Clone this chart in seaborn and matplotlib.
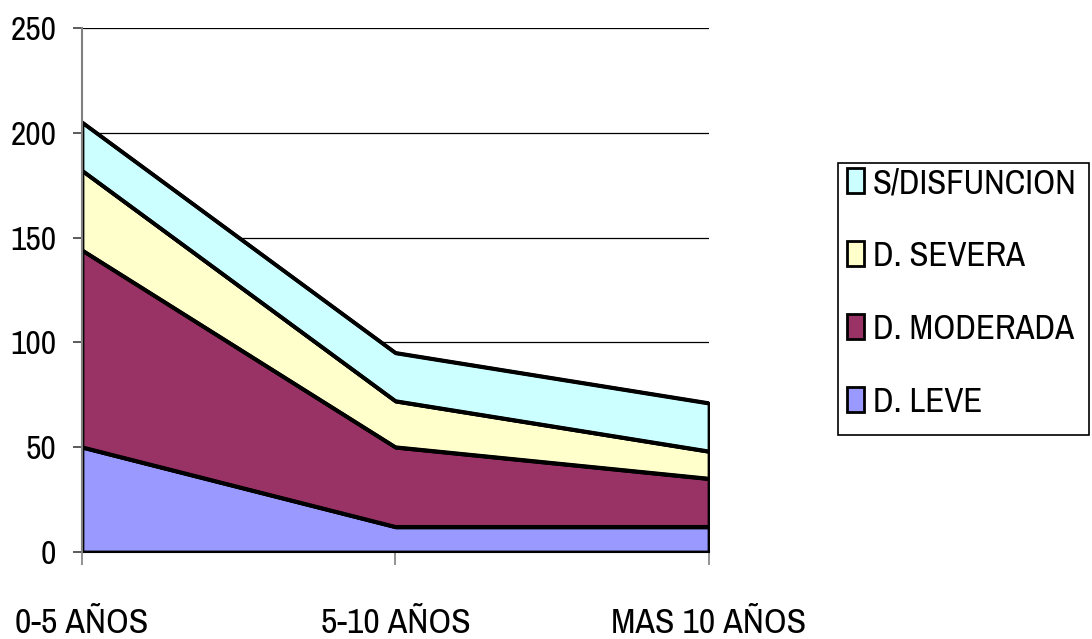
import matplotlib
matplotlib.use("Agg")
import matplotlib.pyplot as plt
import seaborn as sns
import numpy as np
import pandas as pd
from matplotlib.patches import Patch, Rectangle

categories = ["0-5 AÑOS", "5-10 AÑOS", "MAS 10 AÑOS"]
leve = [50, 12, 12]
moderada = [94, 38, 23]
severa = [38, 22, 13]
sin_disf = [23, 23, 23]
series_names = ["D. LEVE", "D. MODERADA", "D. SEVERA", "S/DISFUNCION"]
colors = ["#9999FF", "#993366", "#FFFFCC", "#CCFFFF"]
yticks = [0, 50, 100, 150, 200, 250]

sns.set_style("white")
FONT = ['Archivo Narrow', 'Roboto Condensed', 'DejaVu Sans']
plt.rcParams['font.family'] = FONT
plt.rcParams['text.color'] = 'black'
plt.rcParams['xtick.labelcolor'] = 'black'
plt.rcParams['ytick.labelcolor'] = 'black'

W, H = 1092, 639
fig = plt.figure(figsize=(W / 100, H / 100), dpi=100)
renderer = fig.canvas.get_renderer()


def fit_size(text, target_px, base=24):
    t = fig.text(0, 0, text, fontsize=base)
    w = t.get_window_extent(renderer).width
    t.remove()
    return base * target_px / w


fs_y = fit_size("250", 46)
fs_x = fit_size("MAS 10 AÑOS", 196)
fs_leg = fit_size("S/DISFUNCION", 205)

ax = fig.add_axes([82 / W, 1 - 552 / H, (709 - 82) / W, (552 - 28) / H])

x = np.arange(len(categories))
ys = [leve, moderada, severa, sin_disf]
ax.set_ylim(0, 250)
ax.set_xlim(0, len(categories) - 1)
for t in yticks[1:]:
    ax.axhline(t, color="black", lw=0.9, zorder=0)

ax.stackplot(x, *ys, colors=colors, edgecolor="black", linewidth=2.7, zorder=2)

cum = np.cumsum(np.array(ys), axis=0)
df = pd.DataFrame({"x": np.tile(x, len(ys)), "y": cum.ravel(),
                   "s": np.repeat(series_names, len(x))})
sns.lineplot(data=df, x="x", y="y", units="s", estimator=None, color="black",
             lw=2.7, ax=ax, zorder=3, legend=False)

ax.set_xticks(x)
ax.set_xticklabels(categories, fontsize=fs_x)
ax.set_yticks(yticks)
ax.set_yticklabels([str(t) for t in yticks], fontsize=fs_y)
ax.set_xlabel("")
ax.set_ylabel("")
for s in ["top", "right"]:
    ax.spines[s].set_visible(False)
ax.spines["left"].set_color("#808080")
ax.spines["left"].set_linewidth(1.5)
ax.spines["bottom"].set_color("black")
ax.spines["bottom"].set_linewidth(1.5)
ax.spines["left"].set_zorder(5)
ax.tick_params(axis="y", direction="out", length=6.5, width=1.2, color="#404040", pad=12, left=True)
ax.tick_params(axis="x", direction="out", length=9.4, width=1.2, color="#808080", pad=30, bottom=True)

# legend frame
fig.patches.append(Rectangle((838 / W, 1 - 435 / H), (1089 - 838) / W, (435 - 163) / H,
                             transform=fig.transFigure, facecolor="white",
                             edgecolor="black", linewidth=1.2, zorder=0))

fs_px = fs_leg * 100 / 72
handles = [Patch(facecolor=c, edgecolor="black", linewidth=2, label=n)
           for c, n in zip(colors[::-1], series_names[::-1])]


def make_legend(spacing, top):
    lg = fig.legend(handles=handles, loc="upper left", bbox_to_anchor=(847 / W, 1 - top / H),
                    fontsize=fs_leg, frameon=False,
                    handlelength=17 / fs_px, handleheight=25 / fs_px, handletextpad=9 / fs_px,
                    labelspacing=spacing, borderpad=0, borderaxespad=0)
    return lg


spacing, top = 0.8, 165
leg = make_legend(spacing, top)
fig.canvas.draw()
texts = leg.get_texts()
c0 = texts[0].get_window_extent(renderer)
c3 = texts[-1].get_window_extent(renderer)
step = ((c0.y0 + c0.y1) / 2 - (c3.y0 + c3.y1) / 2) / 3
spacing += (73 - step) / fs_px
leg.remove()
leg = make_legend(spacing, top)
fig.canvas.draw()
c0 = leg.get_texts()[0].get_window_extent(renderer)
cy = H - (c0.y0 + c0.y1) / 2
top += 183 - cy
leg.remove()
leg = make_legend(spacing, top)

fig.savefig("out.png", dpi=100)
